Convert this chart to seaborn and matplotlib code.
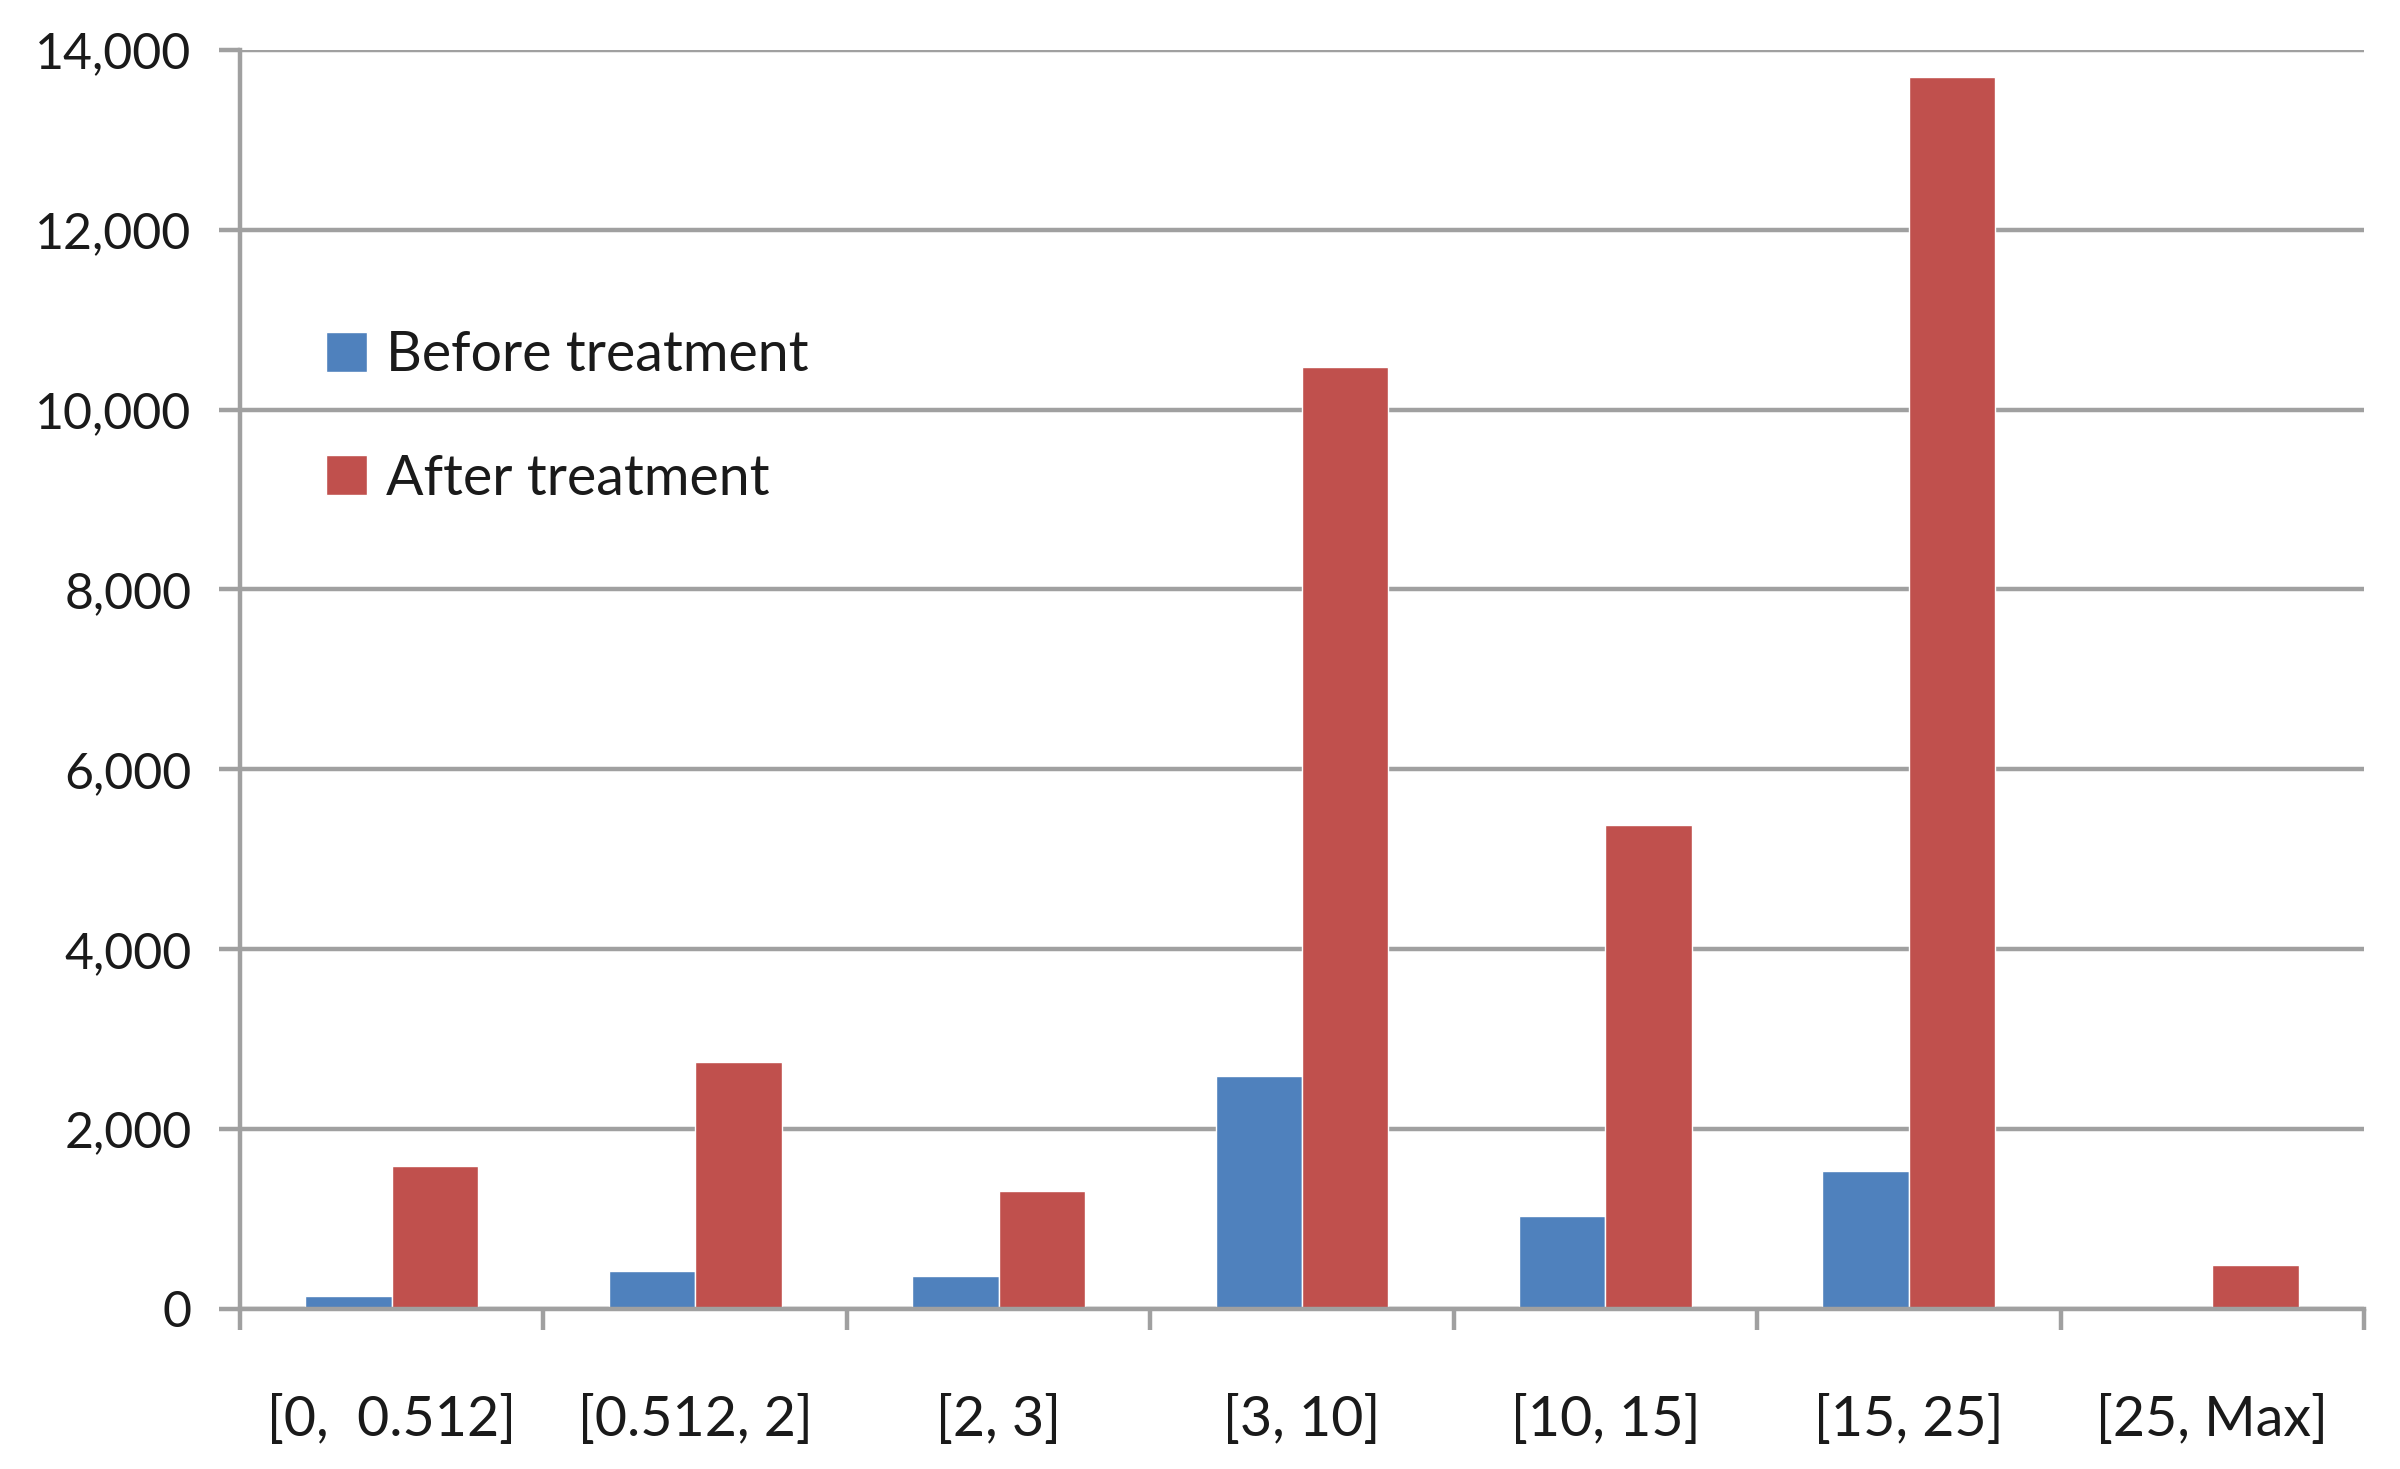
import pandas as pd
import matplotlib.pyplot as plt
import seaborn as sns
from matplotlib.ticker import FuncFormatter, FixedLocator

# dados
intervalos = ['[0,  0.512]', '[0.512, 2]', '[2, 3]', '[3, 10]', '[10, 15]', '[15, 25]', '[25, Max]']
antes = [140, 420, 370, 2590, 1035, 1535, 0]
depois = [1590, 2750, 1310, 10470, 5380, 13700, 485]
series = ['Before treatment', 'After treatment']
cores = ['#4F81BD', '#C0504D']

df = pd.DataFrame({
    'intervalo': intervalos * 2,
    'valor': antes + depois,
    'serie': [series[0]] * len(antes) + [series[1]] * len(depois),
})

sns.set_style('white')
plt.rcParams['font.family'] = ['Lato', 'DejaVu Sans']

fig = plt.figure(figsize=(24, 14.69), dpi=100)
ax = fig.add_axes([0.100, 0.109, 0.885, 0.857])

sns.barplot(data=df, x='intervalo', y='valor', hue='serie', palette=cores,
            width=0.57, saturation=1, ax=ax, legend=True)

ax.set_xlim(-0.5, len(intervalos) - 0.5)
ax.set_ylim(0, 14000)
ax.set_yticks(range(0, 14001, 2000))
ax.yaxis.set_major_formatter(FuncFormatter(lambda v, p: f'{int(v):,}'))
ax.grid(axis='y', color='#A0A0A0', linewidth=3.2)
ax.set_axisbelow(True)
ax.set_xlabel('')
ax.set_ylabel('')

for s in ['top', 'right']:
    ax.spines[s].set_visible(False)
for s in ['left', 'bottom']:
    ax.spines[s].set_color('#A0A0A0')
    ax.spines[s].set_linewidth(3.2)

# ticks nas divisas das categorias
ax.xaxis.set_minor_locator(FixedLocator([i - 0.5 for i in range(len(intervalos) + 1)]))
ax.tick_params(axis='x', which='minor', length=15, width=3.2, color='#A0A0A0', bottom=True)
ax.tick_params(axis='x', which='major', length=0, pad=62, labelsize=40, labelcolor='#1a1a1a')
ax.tick_params(axis='y', which='major', length=15, width=3.2, color='#A0A0A0', left=True,
               pad=20, labelsize=36, labelcolor='#1a1a1a')

leg = ax.legend(loc='center left', bbox_to_anchor=(0.017, 0.708), frameon=False,
                fontsize=40, handlelength=0.73, handleheight=0.73, handletextpad=0.35,
                labelspacing=1.3)
for t in leg.get_texts():
    t.set_color('#1a1a1a')

fig.savefig('out.png', dpi=100)
